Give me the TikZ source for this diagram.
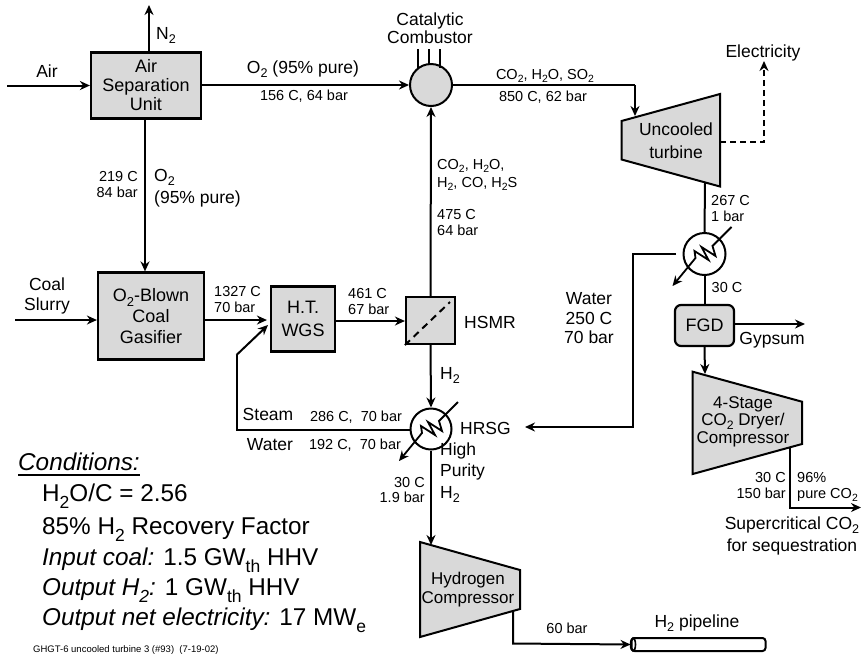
\documentclass[tikz,border=0pt]{standalone}
\usepackage{fontspec}
\usepackage{graphicx}
\setmainfont{Liberation Sans}
\usetikzlibrary{arrows.meta,calc}
\newcommand\dn[1]{\raisebox{-0.27em}{\scalebox{0.72}{#1}}}
\definecolor{unitgrey}{HTML}{D9D9D9}
\tikzset{
  line/.style={line width=2pt,draw=black},
  flow/.style={line,-{Stealth[length=10pt,width=9pt]}},
  procbox/.style={line,line width=2.2pt,fill=unitgrey,inner sep=0pt,align=center,font=\fontsize{18}{21}\selectfont},
  vessel/.style={line,line width=2pt,circle,inner sep=0pt},
  machine/.style={line,line width=2pt,fill=unitgrey},
  big/.style={inner sep=0pt,font=\fontsize{17.5}{21}\selectfont,text height=12.5pt,text depth=0pt},
  small/.style={inner sep=0pt,font=\fontsize{14.5}{16}\selectfont,text height=10pt,text depth=0pt},
  huge/.style={inner sep=0pt,font=\fontsize{24.3}{28}\selectfont,text height=17pt,text depth=0pt,anchor=west},
  hxtube/.pic={
    \draw[line,line width=1.8pt,line join=miter,-{Stealth[length=10pt,width=9pt]}]
      (27,-27) -- (8,-8) -- (11,2) -- (-3,-7) -- (4,6) -- (-10,-3) -- (-9,4) -- (-32,32);
  }
}
\begin{document}
\begin{tikzpicture}[x=1pt,y=-1pt]
\useasboundingbox (0,0) rectangle (861,654);

% ---------- units ----------
\node[procbox,minimum width=110pt,minimum height=66pt,font=\fontsize{18}{19}\selectfont] (asu) at (146,85.5) {Air\\Separation\\Unit};
\node[procbox,minimum width=106pt,minimum height=87pt] (gas) at (151,316) {O\dn{2}-Blown\\Coal\\Gasifier};
\node[procbox,minimum width=64pt,minimum height=65pt,font=\fontsize{18}{23}\selectfont] (wgs) at (303,319) {H.T.\\WGS};
\node[procbox,minimum width=49pt,minimum height=47pt] (hsmr) at (430.5,320.5) {};
\node[vessel,fill=unitgrey,minimum size=42pt] (comb) at (431,85) {};
\node[vessel,minimum size=42pt] (hx1) at (704.5,254) {};
\node[vessel,minimum size=41pt] (hrsg) at (431,429) {};
\node[procbox,rounded corners=6pt,minimum width=59pt,minimum height=41pt] (fgd) at (704.5,325.5) {FGD};

\draw[machine] (621.5,121) -- (720,94) -- (720,186.5) -- (621.5,159.5) -- cycle;
\node[big] (turb1) at (676,129) {Uncooled};
\node[big] (turb2) at (676,152) {turbine};

\draw[machine] (692.7,371.7) -- (802,401.7) -- (802,444) -- (692.7,474) -- cycle;
\node[big,font=\fontsize{17}{20}\selectfont] (dc1) at (743,402) {4-Stage};
\node[big,font=\fontsize{17}{20}\selectfont] (dc2) at (743,419) {CO\dn{2} Dryer/};
\node[big,font=\fontsize{17}{20}\selectfont] (dc3) at (743,437.5) {Compressor};

\draw[machine] (420,542) -- (520,570) -- (520,609) -- (420,637) -- cycle;
\node[big,font=\fontsize{17}{20}\selectfont] (hc1) at (468,578) {Hydrogen};
\node[big,font=\fontsize{17}{20}\selectfont] (hc2) at (468,597) {Compressor};

\node[line,rounded corners=3pt,minimum width=134pt,minimum height=13pt,inner sep=0pt] (pipe) at (698.5,644.5) {};
\draw[line,line width=1.6pt] ([xshift=2.5pt]pipe.west) ellipse (2.5 and 6.5);

% HSMR membrane
\draw[line,dash pattern=on 7pt off 5pt] (hsmr.south west) -- (450,302);

% heat-exchanger tubes
\pic at (hx1.center) {hxtube};
\pic at (hrsg.center) {hxtube};

% ---------- free ends and bends ----------
\coordinate (airin) at (7,85.5);
\coordinate (n2out) at (149,5);
\coordinate (slurry) at (15,320);
\coordinate (gasO) at (145,0);
\coordinate (combOut) at (635,85);
\coordinate (turbIn) at (635,116);
\coordinate (elec1) at (720,142);
\coordinate (elec2) at (764,142);
\coordinate (elecOut) at (764,61);
\coordinate (gypsum) at (805,324);
\coordinate (fgdIn) at (705,374);
\coordinate (waterL) at (676,254);
\coordinate (waterC) at (633,254);
\coordinate (waterD) at (633,427);
\coordinate (waterOut) at (525,427);
\coordinate (steamB) at (236.5,430);
\coordinate (steamU) at (236.5,355);
\coordinate (steamTip) at (268,325);
\coordinate (hcIn) at (431,545);
\coordinate (hcO1) at (513,611);
\coordinate (hcO2) at (513,643.5);
\coordinate (dcO1) at (790,447);
\coordinate (dcO2) at (790,507.5);
\coordinate (dcOut) at (861,507.5);
\coordinate (t1) at (705,183);
\coordinate (stacka) at (418,49);
\coordinate (stackb) at (429,49);
\coordinate (stackc) at (440,49);
\coordinate (stacka2) at (418,68);
\coordinate (stackb2) at (429,65);
\coordinate (stackc2) at (440,68);

% ---------- connectors ----------
\draw[flow] (airin) -- (asu.west);
\draw[flow] (asu.north -| n2out) -- (n2out);
\draw[flow] (asu.east |- comb.west) -- (comb.west);
\draw[flow] (asu.south -| gasO) -- (gas.north -| gasO);
\draw[flow] (slurry) -- (slurry -| gas.west);
\draw[flow] (gas.east |- slurry) -- ([xshift=-3pt]wgs.west |- slurry);
\draw[flow] (wgs.east |- 0,321) -- (hsmr.west |- 0,321);
\draw[flow] (hsmr.north) -- (comb.south);
\draw[flow] (hsmr.south) -- (hrsg.north);
\draw[line] (comb.east) -- (combOut);
\draw[flow] (combOut) -- (turbIn);
\draw[line] (stacka) -- (stacka2);
\draw[line] (stackb) -- (stackb2);
\draw[line] (stackc) -- (stackc2);
\draw[flow,dash pattern=on 6pt off 4pt] (elec1) -- (elec2) -- (elecOut);
\draw[line] (t1) -- (hx1.north);
\draw[line] (hx1.south) -- (fgd.north);
\draw[flow] (fgd.east |- gypsum) -- (gypsum);
\draw[flow] (fgd.south) -- (fgdIn);
\draw[flow] (waterL) -- (waterC) -- (waterD) -- (waterOut);
\draw[line,line join=miter] (hrsg.west |- steamB) -- (steamB) -- (steamU);
\draw[flow] (steamU) -- (steamTip);
\draw[flow] (hrsg.south) -- (hcIn);
\draw[flow] (hcO1) -- (hcO2) -- (pipe.west);
\draw[flow] (dcO1) -- (dcO2) -- (dcOut);

% ---------- large labels ----------
\node[big] (lAir) at (47,71) {Air};
\node[big,anchor=west] (lN2) at (156,33) {N\dn{2}};
\node[big] (lCat1) at (430,19) {Catalytic};
\node[big] (lCat2) at (430,37) {Combustor};
\node[big] (lO2a) at (303,67) {O\dn{2} (95\% pure)};
\node[big] (lElec) at (763,51) {Electricity};
\node[big,anchor=west] (lO2b) at (154,175) {O\dn{2}};
\node[big,anchor=west] (lO2c) at (154,197) {(95\% pure)};
\node[big] (lCoal1) at (47,284) {Coal};
\node[big] (lCoal2) at (47,304) {Slurry};
\node[big,anchor=west] (lHSMR) at (464,322) {HSMR};
\node[big,anchor=west] (lH2) at (440,373) {H\dn{2}};
\node[big] (lSteam) at (268,414) {Steam};
\node[big] (lWaterS) at (270,444) {Water};
\node[big,anchor=west] (lHRSG) at (460,428) {HRSG};
\node[big,anchor=west] (lHP1) at (440,449) {High};
\node[big,anchor=west] (lHP2) at (440,470) {Purity};
\node[big,anchor=west] (lHP3) at (440,492) {H\dn{2}};
\node[big] (lW1) at (589,298) {Water};
\node[big] (lW2) at (589,318) {250 C};
\node[big] (lW3) at (589,337) {70 bar};
\node[big] (lGyp) at (772,338) {Gypsum};
\node[big] (lSc1) at (792,523) {Supercritical CO\dn{2}};
\node[big] (lSc2) at (792,545) {for sequestration};
\node[big] (lPipe) at (697,621) {H\dn{2} pipeline};

% ---------- small labels ----------
\node[small] (s1) at (304,95) {156 C, 64 bar};
\node[small] (s2) at (545,74) {CO\dn{2}, H\dn{2}O, SO\dn{2}};
\node[small] (s3) at (543,96) {850 C, 62 bar};
\node[small,anchor=east] (s4) at (138,176) {219 C};
\node[small,anchor=east] (s5) at (138,192) {84 bar};
\node[small,anchor=west] (s6) at (437,164) {CO\dn{2}, H\dn{2}O,};
\node[small,anchor=west] (s7) at (437,182) {H\dn{2}, CO, H\dn{2}S};
\node[small,anchor=west] (s8) at (437,214) {475 C};
\node[small,anchor=west] (s9) at (437,230) {64 bar};
\node[small,anchor=west] (s10) at (214,291) {1327 C};
\node[small,anchor=west] (s11) at (214,307) {70 bar};
\node[small,anchor=west] (s12) at (348,293) {461 C};
\node[small,anchor=west] (s13) at (348,309) {67 bar};
\node[small] (s14) at (356,416) {286 C,~~70 bar};
\node[small] (s15) at (355,444) {192 C,~~70 bar};
\node[small,anchor=east] (s16) at (425,482) {30 C};
\node[small,anchor=east] (s17) at (425,497) {1.9 bar};
\node[small,anchor=west] (s18) at (711,200) {267 C};
\node[small,anchor=west] (s19) at (711,216) {1 bar};
\node[small] (s20) at (727,287) {30 C};
\node[small,anchor=east] (s21) at (786,477) {30 C};
\node[small,anchor=east] (s22) at (786,493) {150 bar};
\node[small,anchor=west] (s23) at (797,477) {96\%};
\node[small,anchor=west] (s24) at (797,493) {pure CO\dn{2}};
\node[small] (s25) at (567,628) {60 bar};

% ---------- conditions ----------
\node[huge] (cond) at (18,462) {\textit{Conditions:}};
\draw[line width=1.5pt] ([yshift=-4.5pt]cond.south west) -- ([yshift=-4.5pt]cond.south east);
\node[huge] (c1) at (42,493) {H\dn{2}O/C = 2.56};
\node[huge] (c2) at (42,526) {85\% H\dn{2} Recovery Factor};
\node[huge] (c3) at (42,557) {\textit{Input coal:} 1.5 GW\dn{th} HHV};
\node[huge] (c4) at (42,587) {\textit{Output H\dn{2}:} 1 GW\dn{th} HHV};
\node[huge] (c5) at (42,617) {\textit{Output net electricity:} 17 MW\dn{e}};
\node[inner sep=0pt,anchor=west,font=\fontsize{9.5}{11}\selectfont,text height=7pt,text depth=0pt] (foot) at (33,649) {GHGT-6 uncooled turbine 3 (\#93)~~(7-19-02)};
\end{tikzpicture}
\end{document}
